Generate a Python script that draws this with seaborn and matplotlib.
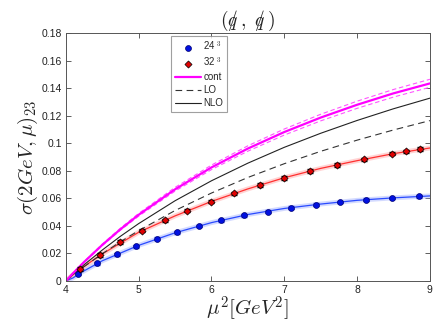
import matplotlib
matplotlib.use('Agg')
import matplotlib.pyplot as plt
import pandas as pd
import seaborn as sns
from matplotlib.ticker import FuncFormatter

# lattice data points
mu2_24 = [4.17, 4.43, 4.70, 4.97, 5.25, 5.53, 5.83, 6.13, 6.45, 6.77, 7.09, 7.43, 7.76, 8.12, 8.48, 8.85]
sig_24 = [0.0050, 0.0128, 0.0194, 0.0252, 0.0307, 0.0353, 0.0399, 0.0440, 0.0477, 0.0503, 0.0532, 0.0554, 0.0573, 0.0590, 0.0602, 0.0615]
err_24 = [0.0010] * 16

mu2_32 = [4.20, 4.47, 4.75, 5.05, 5.36, 5.67, 5.99, 6.31, 6.66, 6.99, 7.35, 7.72, 8.09, 8.48, 8.67, 8.86]
sig_32 = [0.0085, 0.0186, 0.0283, 0.0365, 0.0440, 0.0510, 0.0576, 0.0636, 0.0697, 0.0748, 0.0798, 0.0842, 0.0883, 0.0924, 0.0941, 0.0958]
err_32 = [0.0013] * 16

# curves
mu2_grid = [4.0, 4.1, 4.25, 4.5, 4.75, 5.0, 5.5, 6.0, 6.5, 7.0, 7.5, 8.0, 8.5, 9.0]
cont = [0.0, 0.0056, 0.0137, 0.0261, 0.0375, 0.0480, 0.0665, 0.0824, 0.0961, 0.1081, 0.1186, 0.1279, 0.1362, 0.1434]
cont_hi = [0.0, 0.0058, 0.0140, 0.0267, 0.0383, 0.0490, 0.0679, 0.0841, 0.0981, 0.1103, 0.1210, 0.1305, 0.1390, 0.1464]
cont_lo = [0.0, 0.0055, 0.0134, 0.0256, 0.0368, 0.0470, 0.0652, 0.0808, 0.0942, 0.1059, 0.1162, 0.1253, 0.1335, 0.1406]
nlo = [0.0, 0.0048, 0.0117, 0.0224, 0.0324, 0.0416, 0.0582, 0.0727, 0.0855, 0.0970, 0.1072, 0.1165, 0.1250, 0.1327]
lo = [0.0, 0.0042, 0.0103, 0.0197, 0.0284, 0.0365, 0.0511, 0.0638, 0.0751, 0.0851, 0.0941, 0.1022, 0.1096, 0.1164]

fit_x = [4.0, 4.1, 4.2, 4.5, 5.0, 5.5, 6.0, 6.5, 7.0, 7.5, 8.0, 8.5, 9.0]
fit_24 = [0.0, 0.0022, 0.0058, 0.0146, 0.0258, 0.0349, 0.0423, 0.0482, 0.0526, 0.0558, 0.0585, 0.0603, 0.0617]
fit_32 = [0.0, 0.0045, 0.0087, 0.0196, 0.0353, 0.0472, 0.0577, 0.0668, 0.0749, 0.0817, 0.0873, 0.0924, 0.0965]

curves = pd.DataFrame({'mu2': mu2_grid, 'cont': cont, 'cont_hi': cont_hi,
                       'cont_lo': cont_lo, 'NLO': nlo, 'LO': lo})
fits = pd.DataFrame({'mu2': fit_x, 'fit24': fit_24, 'fit32': fit_32})

sns.set_style('ticks')
plt.rcParams['font.family'] = ['Liberation Sans', 'DejaVu Sans']
plt.rcParams['mathtext.fontset'] = 'cm'

fig = plt.figure(figsize=(4.36, 3.27), dpi=100)
ax = fig.add_axes([0.151, 0.141, 0.835, 0.758])

# fit bands (light halo) and fit lines
sns.lineplot(data=fits, x='mu2', y='fit24', ax=ax, color='#a8b6ff', lw=3.5, alpha=0.5)
sns.lineplot(data=fits, x='mu2', y='fit32', ax=ax, color='#ffaaaa', lw=3.5, alpha=0.5)
sns.lineplot(data=fits, x='mu2', y='fit24', ax=ax, color='#2a4bff', lw=0.9)
sns.lineplot(data=fits, x='mu2', y='fit32', ax=ax, color='#ff3030', lw=0.9)

h_lo, = ax.plot(curves['mu2'], curves['LO'], color='#333333', lw=0.8, ls=(0, (6, 4)))
h_nlo, = ax.plot(curves['mu2'], curves['NLO'], color='#222222', lw=0.8)
ax.plot(curves['mu2'], curves['cont_hi'], color='#ff55ff', lw=0.8, ls=(0, (4, 2.5)))
ax.plot(curves['mu2'], curves['cont_lo'], color='#ff55ff', lw=0.8, ls=(0, (4, 2.5)))
h_cont, = ax.plot(curves['mu2'], curves['cont'], color='#ff00ff', lw=1.6)

ax.errorbar(mu2_24, sig_24, yerr=err_24, fmt='none', ecolor='#3050ff', elinewidth=0.8, capsize=2)
ax.errorbar(mu2_32, sig_32, yerr=err_32, fmt='none', ecolor='black', elinewidth=0.8, capsize=2)
h24 = ax.scatter(mu2_24, sig_24, marker='o', s=18, color='#0010e0', edgecolor='#000070', lw=0.5, zorder=5)
h32 = ax.scatter(mu2_32, sig_32, marker='D', s=13, color='#e00000', edgecolor='black', lw=0.5, zorder=5)

ax.set_xlim(4, 9)
ax.set_ylim(0, 0.18)
ax.set_xticks([4, 5, 6, 7, 8, 9])
ax.set_yticks([0, 0.02, 0.04, 0.06, 0.08, 0.1, 0.12, 0.14, 0.16, 0.18])
ax.yaxis.set_major_formatter(FuncFormatter(lambda v, p: '%g' % round(v, 2)))
ax.tick_params(direction='in', top=True, right=True, labelsize=7.5, length=3.5,
               width=0.6, color='#444444', labelcolor='#222222', pad=3)
for s in ax.spines.values():
    s.set_linewidth(0.7)
    s.set_color('#555555')

ax.set_xlabel(r'$\mu^2[GeV^2]$', fontsize=15, labelpad=-1)
ax.set_ylabel(r'$\sigma(2GeV,\mu)_{23}$', fontsize=15, labelpad=1)
ax.set_title(r'$(q\!\!\!/\,,\ q\!\!\!/\,)$', fontsize=14, pad=5)

leg = ax.legend([h24, h32, h_cont, h_lo, h_nlo],
                ['24$^{\\ 3}$', '32$^{\\ 3}$', 'cont', 'LO', 'NLO'],
                loc='upper left', bbox_to_anchor=(0.29, 0.99), fontsize=7,
                frameon=True, fancybox=False, handlelength=2.6, handletextpad=0.3,
                borderpad=0.4, labelspacing=0.3, borderaxespad=0)
leg.get_frame().set_edgecolor('#888888')
leg.get_frame().set_linewidth(0.8)

fig.savefig('out.png', dpi=100)
